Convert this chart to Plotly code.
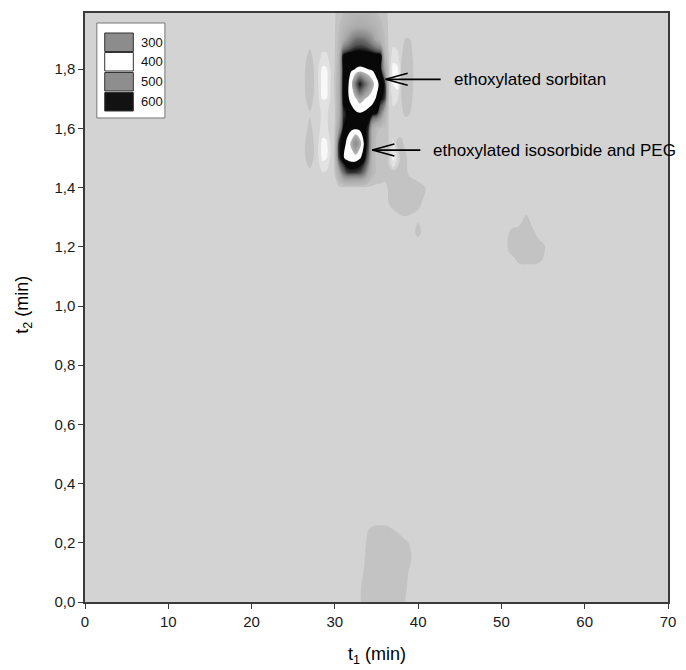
import plotly.graph_objects as go

# ---------------- data ----------------
# main peak region: columns = t1 (min), rows = t2 (min), z = intensity
T1_MAIN = [26, 27, 28, 28.5, 29, 29.5, 30, 30.5, 31, 31.5, 32, 32.5, 33, 33.5,
           34, 34.5, 35, 35.5, 36, 36.5, 37, 37.5, 38, 38.5, 39, 40, 41]
T2_MAIN = [1.20, 1.25, 1.30, 1.35, 1.40, 1.45, 1.50, 1.55, 1.60, 1.65, 1.70,
           1.75, 1.80, 1.85, 1.90, 1.95, 2.00]
Z_MAIN = [
    [0, 0, 0, 0, 0, 0, 0, 0, 0, 0, 0, 0, 0, 0, 0, 0, 0, 0, 0, 0, 0, 0, 0, 0, 0, 0, 0],
    [0, 0, 0, 0, 0, 0, 0, 0, 0, 0, 0, 0, 0, 0, 0, 0, 0, 0, 0, 0, 0, 0, 0, 0, 0, 70, 0],
    [0, 0, 0, 0, 0, 0, 0, 0, 0, 0, 0, 0, 0, 0, 0, 0, 0, 0, 0, 0, 20, 30, 40, 42, 38, 30, 0],
    [0, 0, 0, 0, 0, 0, 0, 0, 0, 0, 0, 0, 0, 0, 0, 0, 0, 0, 15, 50, 70, 80, 85, 85, 80, 60, 25],
    [0, 0, 0, 0, 0, 0, 20, 25, 30, 30, 30, 30, 30, 30, 30, 30, 30, 30, 25, 55, 75, 80, 85, 85, 85, 75, 40],
    [0, 30, 0, 0, 0, 0, 50, 250, 480, 560, 570, 565, 550, 480, 300, 150, 95, 85, 75, 50, 55, 60, 65, 60, 30, 0, 0],
    [15, 80, 0, 0, 0, 0, 55, 560, 640, 660, 670, 670, 650, 625, 500, 150, 90, 85, 80, 40, 0, 20, 60, 60, 10, 0, 0],
    [15, 85, 0, 0, 0, 0, 55, 580, 620, 660, 710, 780, 720, 640, 560, 200, 90, 80, 80, 40, 0, 55, 60, 20, 0, 0, 0],
    [10, 60, 0, 0, 0, 0, 50, 330, 600, 625, 635, 638, 632, 618, 580, 250, 130, 100, 90, 40, 0, 20, 20, 10, 0, 0, 0],
    [10, 40, 0, 0, 0, 0, 45, 220, 560, 610, 625, 635, 640, 635, 625, 620, 595, 450, 200, 30, 0, 0, 35, 55, 45, 0, 0],
    [15, 75, 0, 0, 0, 0, 50, 220, 615, 635, 660, 690, 720, 700, 680, 660, 640, 615, 560, 35, 0, 0, 45, 75, 65, 0, 0],
    [15, 90, 0, 0, 0, 0, 55, 220, 620, 630, 680, 820, 960, 860, 780, 720, 660, 630, 585, 40, 0, 0, 45, 85, 75, 0, 0],
    [15, 85, 0, 0, 0, 0, 50, 200, 605, 630, 640, 646, 648, 647, 645, 638, 625, 605, 300, 35, 0, 0, 50, 80, 75, 0, 0],
    [10, 60, 0, 0, 0, 0, 45, 170, 590, 615, 625, 630, 632, 630, 628, 620, 610, 600, 160, 30, 0, 0, 40, 70, 65, 0, 0],
    [0, 20, 0, 0, 0, 0, 45, 130, 250, 360, 440, 490, 500, 490, 450, 380, 280, 180, 110, 30, 0, 0, 30, 50, 48, 0, 0],
    [0, 0, 0, 0, 0, 0, 40, 100, 140, 180, 220, 250, 260, 250, 230, 200, 160, 120, 90, 30, 0, 0, 0, 0, 0, 0, 0],
    [0, 0, 0, 0, 0, 0, 35, 80, 100, 120, 135, 145, 150, 145, 135, 120, 100, 85, 70, 25, 0, 0, 0, 0, 0, 0, 0],
]

# light (below-baseline) side stripes beside the main peaks: z = depth below baseline
T1_DIP = [27.5, 28, 28.5, 29, 29.5, 30, 36.5, 37, 37.5, 38]
T2_DIP = [1.40, 1.45, 1.50, 1.55, 1.60, 1.65, 1.70, 1.75, 1.80, 1.85, 1.90]
Z_DIP = [
    [0, 0, 0, 0, 0, 0, 0, 0, 0, 0],
    [0, 15, 40, 35, 10, 0, 0, 0, 0, 0],
    [0, 40, 120, 110, 35, 0, 0, 130, 50, 0],
    [0, 40, 125, 120, 40, 0, 0, 60, 0, 0],
    [0, 25, 70, 60, 20, 0, 0, 20, 0, 0],
    [0, 20, 60, 55, 20, 0, 0, 30, 20, 0],
    [0, 35, 110, 105, 35, 0, 0, 60, 50, 0],
    [0, 40, 130, 125, 40, 0, 0, 110, 140, 0],
    [0, 40, 120, 115, 40, 0, 0, 130, 120, 0],
    [0, 30, 50, 50, 20, 0, 0, 70, 60, 0],
    [0, 10, 15, 15, 0, 0, 0, 20, 10, 0],
]

# small spot near t1 = 53 min
T1_RIGHT = [50, 50.5, 51, 51.5, 52, 52.5, 53, 53.5, 54, 54.5, 55, 55.5, 56]
T2_RIGHT = [1.10, 1.15, 1.20, 1.25, 1.30, 1.35]
Z_RIGHT = [
    [0, 0, 0, 0, 0, 0, 0, 0, 0, 0, 0, 0, 0],
    [0, 0, 10, 30, 50, 55, 55, 55, 55, 50, 40, 10, 0],
    [0, 20, 70, 80, 85, 85, 85, 85, 80, 70, 60, 30, 0],
    [0, 0, 50, 65, 70, 75, 80, 70, 45, 20, 0, 0, 0],
    [0, 0, 0, 0, 0, 35, 55, 30, 0, 0, 0, 0, 0],
    [0, 0, 0, 0, 0, 0, 0, 0, 0, 0, 0, 0, 0],
]

# spot at the bottom near t1 = 36 min
T1_BOTTOM = [32, 32.5, 33, 33.5, 34, 34.5, 35, 35.5, 36, 36.5, 37, 37.5, 38, 38.5, 39, 39.5, 40]
T2_BOTTOM = [0.00, 0.05, 0.10, 0.15, 0.20, 0.25, 0.30]
Z_BOTTOM = [
    [0, 15, 35, 75, 80, 80, 80, 80, 80, 80, 80, 80, 75, 40, 10, 0, 0],
    [0, 10, 35, 70, 80, 80, 80, 80, 80, 80, 80, 80, 80, 55, 20, 0, 0],
    [0, 0, 20, 50, 80, 80, 80, 80, 80, 80, 80, 80, 80, 65, 35, 0, 0],
    [0, 0, 10, 35, 80, 80, 80, 80, 80, 80, 80, 80, 80, 75, 60, 20, 0],
    [0, 0, 0, 20, 70, 80, 80, 80, 80, 80, 80, 80, 70, 55, 40, 0, 0],
    [0, 0, 0, 0, 40, 50, 55, 55, 55, 50, 40, 30, 15, 0, 0, 0, 0],
    [0, 0, 0, 0, 0, 0, 0, 0, 0, 0, 0, 0, 0, 0, 0, 0, 0],
]

X_TICKS = [0, 10, 20, 30, 40, 50, 60, 70]
Y_TICKS = [0.0, 0.2, 0.4, 0.6, 0.8, 1.0, 1.2, 1.4, 1.6, 1.8]
Y_TICK_LABELS = ["0,0", "0,2", "0,4", "0,6", "0,8", "1,0", "1,2", "1,4", "1,6", "1,8"]
LEGEND_LEVELS = ["300", "400", "500", "600"]
LEGEND_COLORS = ["#8c8c8c", "#ffffff", "#8e8e8e", "#121212"]
PEAK_LABELS = ["ethoxylated sorbitan", "ethoxylated isosorbide and PEG"]
PEAK_T1 = [36.1, 34.5]
PEAK_T2 = [1.766, 1.527]

# ---------------- styling ----------------
BG = "#d3d3d3"
CLEAR = "rgba(211,211,211,0)"
FONT = "Liberation Sans, Arial, sans-serif"
ZLO, ZHI, STEP = 0.0, 1000.0, 10.0
contours = dict(start=ZLO + STEP / 2, end=ZHI - STEP / 2, size=STEP,
                coloring="fill", showlines=False)


def scale(anchors):
    return [[(v - ZLO) / (ZHI - ZLO), c] for v, c in anchors]


peak_scale = scale([
    (0, CLEAR), (45, CLEAR), (45, "#c3c3c3"), (105, "#c3c3c3"),
    (105, "#bcbcbc"), (300, "#a9a9a9"), (450, "#838383"), (540, "#555555"),
    (595, "#141414"), (595, "#080808"), (645, "#080808"),
    (645, "#fdfdfd"), (695, "#fdfdfd"), (695, "#b4b4b4"), (780, "#8a8a8a"),
    (880, "#505050"), (960, "#151515"), (1000, "#101010"),
])
dip_scale = scale([
    (0, CLEAR), (45, CLEAR), (45, "#e2e2e2"), (105, "#e2e2e2"),
    (105, "#f8f8f8"), (1000, "#f8f8f8"),
])


def patch(x, y, z, cs):
    return go.Contour(x=x, y=y, z=z, colorscale=cs, contours=contours,
                      autocontour=False, showscale=False, line=dict(width=0),
                      hoverinfo="skip")


fig = go.Figure()
fig.add_trace(patch(T1_MAIN, T2_MAIN, Z_MAIN, peak_scale))
fig.add_trace(patch(T1_DIP, T2_DIP, Z_DIP, dip_scale))
fig.add_trace(patch(T1_RIGHT, T2_RIGHT, Z_RIGHT, peak_scale))
fig.add_trace(patch(T1_BOTTOM, T2_BOTTOM, Z_BOTTOM, peak_scale))

W, H = 686, 670
L, R, T, B = 85, 10, 13, 68
PW, PH = W - L - R, H - T - B


def px(xp):
    return (xp - L) / PW


def py(yp):
    return (H - B - yp) / PH


shapes = []
annotations = []
# legend box
shapes.append(dict(type="rect", xref="paper", yref="paper", x0=px(97), x1=px(166),
                   y0=py(118), y1=py(23), fillcolor="white",
                   line=dict(color="#777777", width=1), layer="above"))
sw_top = [33, 52.5, 72.5, 92.5]
sw_h = 18.5
for i, (lab, col) in enumerate(zip(LEGEND_LEVELS, LEGEND_COLORS)):
    y0p = sw_top[i]
    shapes.append(dict(type="rect", xref="paper", yref="paper", x0=px(105), x1=px(134),
                       y0=py(y0p + sw_h), y1=py(y0p), fillcolor=col,
                       line=dict(color="#333333", width=1), layer="above"))
    annotations.append(dict(xref="paper", yref="paper", x=px(140), y=py(y0p + sw_h / 2),
                            text=lab, showarrow=False, xanchor="left", yanchor="middle",
                            font=dict(family=FONT, size=13, color="#111")))

# arrows (open chevron, drawn as pixel-sized lines anchored at the tip) and labels
shaft = [55, 48]
text_gap = 11
for lab, tx, ty, sl in zip(PEAK_LABELS, PEAK_T1, PEAK_T2, shaft):
    for x1, y1 in [(sl, 0), (22, 6), (22, -6)]:
        shapes.append(dict(type="line", xref="x", yref="y", xsizemode="pixel",
                           ysizemode="pixel", xanchor=tx, yanchor=ty,
                           x0=0, y0=0, x1=x1, y1=y1, layer="above",
                           line=dict(color="#000", width=1.7)))
    annotations.append(dict(x=tx, y=ty, xref="x", yref="y", text=lab, showarrow=False,
                            xanchor="left", yanchor="middle", xshift=sl + text_gap,
                            font=dict(family=FONT, size=17, color="#000")))

# axis titles
annotations.append(dict(xref="paper", yref="paper", x=0.5, y=py(655),
                        text="t<sub>1</sub> (min)", showarrow=False,
                        xanchor="center", yanchor="middle",
                        font=dict(family=FONT, size=18, color="#000")))
annotations.append(dict(xref="paper", yref="paper", x=px(22), y=py(305),
                        text="t<sub>2</sub> (min)", showarrow=False, textangle=-90,
                        xanchor="center", yanchor="middle",
                        font=dict(family=FONT, size=18, color="#000")))

axis_common = dict(showgrid=False, zeroline=False, showline=True, mirror=True,
                   linecolor="#3a3a3a", linewidth=1.5, ticks="outside", ticklen=5,
                   tickwidth=1, tickcolor="#3a3a3a",
                   tickfont=dict(family=FONT, size=15, color="#1a1a1a"))

fig.update_layout(
    width=W, height=H,
    margin=dict(l=L, r=R, t=T, b=B),
    paper_bgcolor="white", plot_bgcolor=BG,
    showlegend=False,
    xaxis=dict(range=[0, 70], tickvals=X_TICKS, **axis_common),
    yaxis=dict(range=[0, 1.99], tickvals=Y_TICKS, ticktext=Y_TICK_LABELS, **axis_common),
    shapes=shapes, annotations=annotations,
)

fig.write_html("out.html", config={"displayModeBar": False},
               post_script="document.body.style.margin='0px';")
